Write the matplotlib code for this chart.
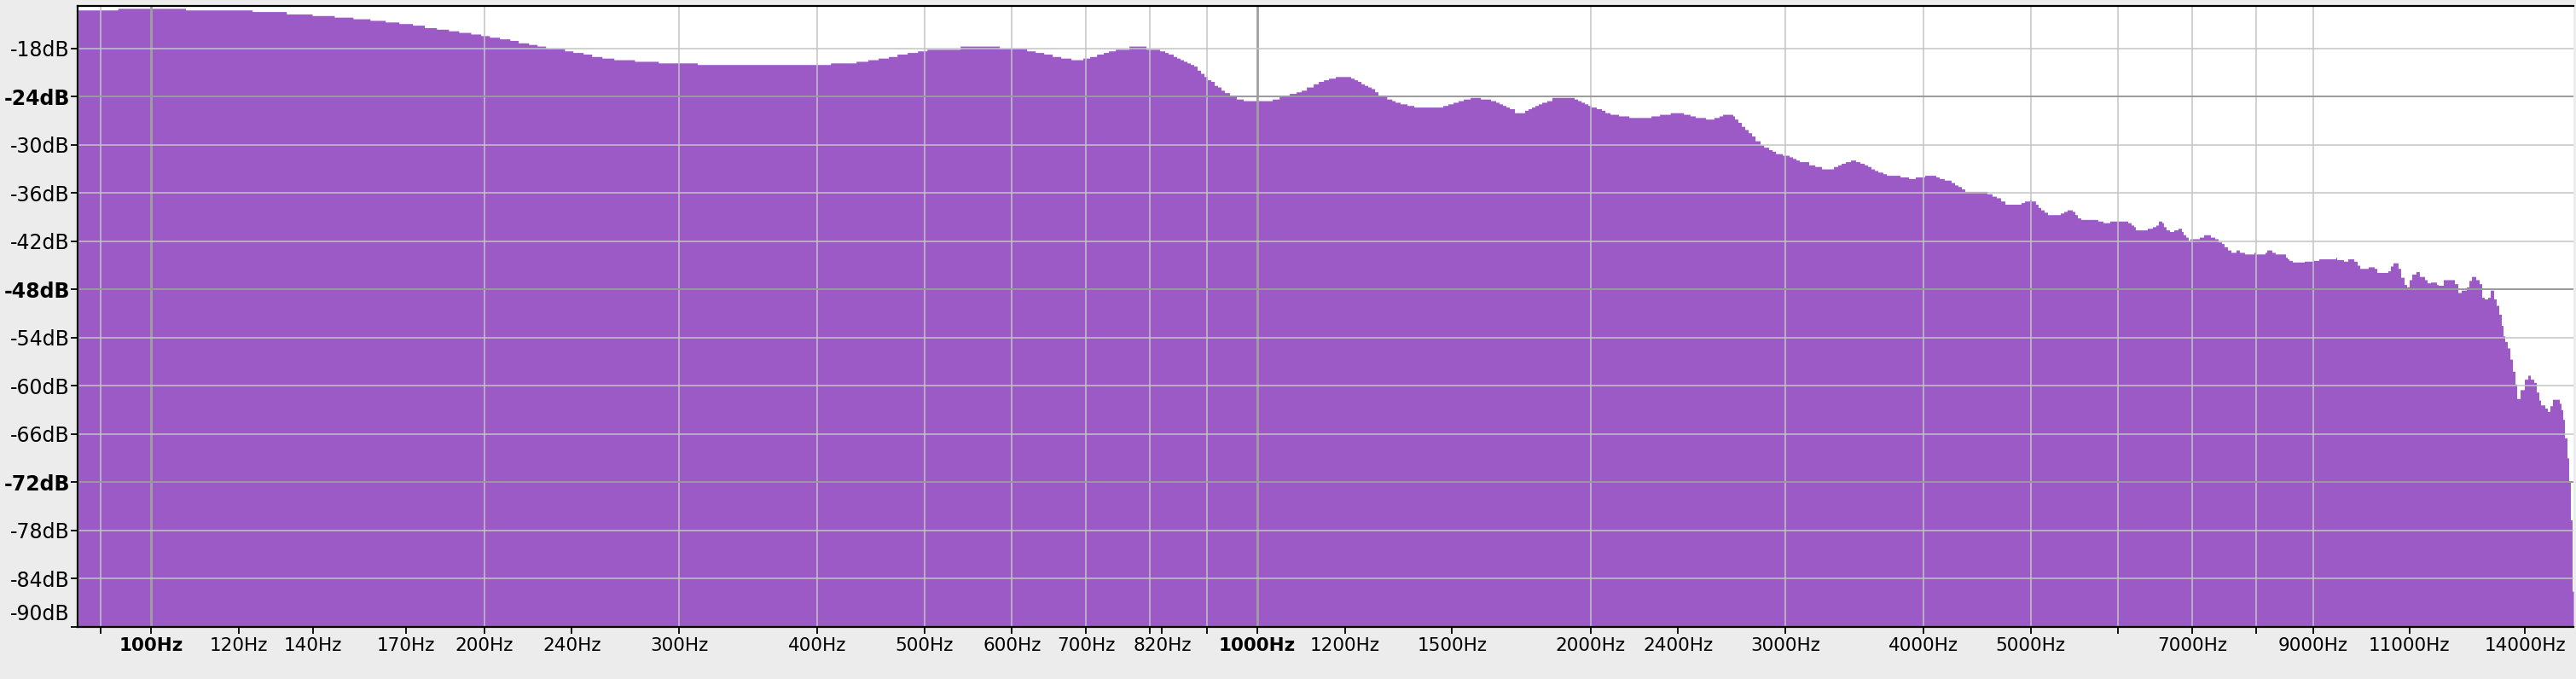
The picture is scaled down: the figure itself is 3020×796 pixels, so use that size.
import numpy as np
import matplotlib
matplotlib.use("Agg")
import matplotlib.pyplot as plt
from matplotlib.ticker import FixedLocator, NullLocator

# spectrum (segment start frequency in Hz, level in dB)
freq_hz = [
    85.9, 93.3, 107.4, 123.4, 132.5, 139.8, 146.4, 152.2, 157.7, 162.8,
    167.5, 172.3, 176.6, 181.1, 185.7, 189.7, 194.5, 198.6, 202.2, 206.5,
    211.0, 214.7, 219.4, 223.3, 227.3, 236.4, 240.6, 245.8, 250.2, 255.6,
    262.0, 273.5, 287.4, 311.7, 411.3, 433.8, 444.6, 454.2, 464.0, 472.4,
    482.5, 493.0, 502.7, 538.7, 584.5, 618.7, 629.8, 641.1, 652.5, 664.2,
    678.4, 695.5, 705.5, 715.7, 725.8, 733.7, 744.1, 765.6, 793.2, 816.0,
    824.7, 830.6, 839.5, 845.5, 851.5, 857.6, 863.8, 869.9, 876.0, 882.2,
    888.6, 894.9, 901.3, 907.8, 914.3, 920.6, 927.2, 933.8, 943.8, 957.3,
    971.1, 1031.6, 1046.4, 1068.8, 1084.2, 1095.8, 1107.5, 1123.4, 1135.4, 1147.6,
    1159.9, 1176.4, 1214.6, 1223.3, 1232.0, 1240.8, 1249.6, 1258.5, 1267.6, 1276.5,
    1285.6, 1309.1, 1323.1, 1332.1, 1346.3, 1365.6, 1385.2, 1471.4, 1487.1, 1503.0,
    1519.1, 1535.4, 1557.4, 1591.0, 1625.1, 1642.5, 1654.1, 1665.9, 1677.9, 1689.7,
    1707.8, 1744.6, 1757.0, 1769.5, 1782.1, 1794.8, 1807.6, 1826.9, 1846.4, 1933.8,
    1948, 1962, 1976, 1990, 2004, 2025, 2047, 2062, 2084, 2121,
    2167, 2269, 2310, 2362, 2428, 2461, 2488, 2542, 2587, 2615,
    2634, 2690, 2700, 2719, 2739, 2758, 2778, 2798, 2818, 2848,
    2869, 2899, 2920, 2941, 2983, 3025, 3047, 3068, 3090, 3151,
    3191, 3236, 3318, 3347, 3371, 3401, 3438, 3474, 3505, 3537,
    3562, 3587, 3613, 3639, 3677, 3704, 3810, 3879, 3934, 4011,
    4105, 4134, 4178, 4238, 4269, 4299, 4330, 4360, 4566, 4615,
    4656, 4698, 4740, 4902, 4937, 4990, 5008, 5052, 5079, 5107,
    5143, 5180, 5320, 5358, 5396, 5453, 5483, 5512, 5551, 5751,
    5813, 5896, 6121, 6164, 6197, 6219, 6376, 6444, 6490, 6524,
    6571, 6594, 6629, 6677, 6737, 6797, 6845, 6870, 6906, 6943,
    6968, 7105, 7168, 7271, 7336, 7388, 7441, 7480, 7534, 7588,
    7669, 7723, 7806, 7960, 7989, 8146, 8175, 8262, 8321, 8501,
    8531, 8562, 8623, 8840, 9000, 9111, 9440, 9457, 9592, 9678,
    9798, 9868, 9921, 10098, 10224, 10279, 10519, 10575, 10632, 10745,
    10803, 10880, 10938, 10996, 11055, 11154, 11233, 11354, 11414, 11496,
    11640, 11681, 11806, 12083, 12169, 12256, 12387, 12453, 12520, 12631,
    12721, 12789, 12857, 12949, 13018, 13111, 13181, 13251, 13322, 13369,
    13417, 13489, 13561, 13634, 13706, 13755, 13853, 13976, 14076, 14151,
    14252, 14328, 14404, 14456, 14584, 14662, 14740, 14819, 15031, 15084,
    15138, 15192, 15273, 15327, 15382, 15437, 15478,
]
level_db = [
    -13.2, -13.0, -13.2, -13.4, -13.7, -13.9, -14.1, -14.3, -14.5, -14.7,
    -14.9, -15.1, -15.4, -15.6, -15.8, -16.0, -16.2, -16.4, -16.6, -16.8,
    -17.0, -17.3, -17.5, -17.7, -18.0, -18.3, -18.5, -18.7, -19.0, -19.2,
    -19.4, -19.6, -19.8, -20.0, -19.8, -19.6, -19.4, -19.2, -19.0, -18.7,
    -18.5, -18.3, -18.1, -17.7, -18.0, -18.3, -18.5, -18.7, -19.0, -19.2,
    -19.4, -19.2, -19.0, -18.7, -18.5, -18.3, -18.1, -17.7, -18.1, -18.3,
    -18.5, -18.7, -19.0, -19.2, -19.4, -19.6, -19.8, -20.0, -20.2, -20.7,
    -21.1, -21.5, -21.9, -22.1, -22.6, -22.8, -23.2, -23.5, -23.9, -24.3,
    -24.5, -24.3, -23.9, -23.6, -23.4, -23.2, -22.8, -22.4, -22.1, -21.9,
    -21.7, -21.5, -21.7, -21.9, -22.1, -22.4, -22.6, -22.8, -23.0, -23.4,
    -23.8, -24.3, -24.5, -24.7, -24.9, -25.1, -25.3, -25.1, -24.9, -24.7,
    -24.5, -24.3, -24.1, -24.3, -24.5, -24.7, -24.9, -25.1, -25.3, -25.5,
    -26.0, -25.7, -25.5, -25.3, -25.1, -24.9, -24.7, -24.5, -24.1, -24.3,
    -24.5, -24.7, -24.9, -25.1, -25.3, -25.5, -25.7, -26.0, -26.2, -26.4,
    -26.6, -26.4, -26.2, -26.0, -26.2, -26.4, -26.6, -26.8, -26.6, -26.4,
    -26.2, -26.4, -26.8, -27.2, -27.7, -28.1, -28.5, -28.9, -29.5, -30.0,
    -30.3, -30.6, -30.8, -31.1, -31.3, -31.5, -31.7, -31.9, -32.1, -32.5,
    -32.7, -33.0, -32.7, -32.5, -32.3, -32.1, -31.9, -32.1, -32.3, -32.5,
    -32.7, -33.0, -33.2, -33.4, -33.6, -33.8, -34.0, -34.2, -34.0, -33.8,
    -34.0, -34.2, -34.4, -34.7, -35.0, -35.2, -35.5, -35.8, -36.1, -36.4,
    -36.6, -37.0, -37.4, -37.2, -37.0, -36.8, -37.0, -37.4, -37.8, -38.1,
    -38.4, -38.7, -38.5, -38.3, -38.1, -38.3, -38.7, -39.1, -39.3, -39.5,
    -39.7, -39.5, -39.7, -40.0, -40.2, -40.6, -40.4, -40.2, -40.0, -39.5,
    -39.7, -40.2, -40.6, -40.8, -40.6, -40.4, -40.8, -41.2, -41.5, -41.9,
    -41.7, -41.5, -41.2, -41.5, -41.7, -42.1, -42.3, -42.7, -43.1, -43.4,
    -43.1, -43.4, -43.6, -43.4, -43.6, -43.4, -43.1, -43.4, -43.6, -44.0,
    -44.2, -44.4, -44.6, -44.5, -44.4, -44.2, -44.0, -44.3, -44.5, -44.2,
    -44.5, -45.0, -45.4, -45.2, -45.4, -45.9, -45.7, -45.1, -44.7, -45.4,
    -46.5, -47.4, -47.7, -46.8, -46.1, -45.8, -46.4, -46.8, -47.2, -47.1,
    -47.4, -47.5, -46.8, -47.3, -48.4, -48.1, -47.7, -46.9, -46.4, -46.8,
    -47.3, -49.0, -49.2, -49.0, -48.1, -49.2, -50.0, -51.1, -52.5, -53.8,
    -54.5, -55.3, -56.7, -58.2, -59.8, -61.6, -60.5, -59.2, -58.7, -59.2,
    -59.6, -60.8, -61.8, -62.4, -62.8, -63.2, -62.5, -61.7, -62.2, -63.0,
    -64.2, -66.5, -69.0, -71.9, -76.7, -85.6, -85.6,
]

# axis ticks / grid
x_ticks = [90, 100, 120, 140, 170, 200, 240, 300, 400, 500, 600, 700, 800, 820,
           900, 1000, 1200, 1500, 2000, 2400, 3000, 4000, 5000, 6000, 7000,
           8000, 9000, 11000, 14000]
x_unlabeled = [90, 800, 900, 6000, 8000]
x_bold = [100, 1000]
x_grid = [90, 100, 200, 300, 400, 500, 600, 700, 800, 900,
          1000, 2000, 3000, 4000, 5000, 6000, 7000, 8000, 9000]
x_grid_major = [100, 1000]
y_ticks = [-18, -24, -30, -36, -42, -48, -54, -60, -66, -72, -78, -84, -90]
y_bold = [-24, -48, -72]

x_min, x_max = 85.8, 15478
y_min, y_max = -90, -12.7

fill_color = '#9c5ac6'
bg_color = '#ececec'

W, H = 3020, 796
fig = plt.figure(figsize=(W / 100, H / 100), dpi=100, facecolor=bg_color)
ax = fig.add_axes([91 / W, 1 - 734.5 / H, 2926 / W, 727.5 / H])
ax.set_facecolor('white')

ax.set_xscale('log')
ax.set_xlim(x_min, x_max)
ax.set_ylim(y_min, y_max)

ax.fill_between(freq_hz, level_db, y_min, step='post', color=fill_color,
                linewidth=0, zorder=1)

# grid drawn on top of the fill
for f in x_grid:
    major = f in x_grid_major
    ax.axvline(f, color='#a0a0a0' if major else '#c4c4c4',
               lw=2.0 if major else 1.1, zorder=2)
for d in y_ticks:
    major = d in y_bold
    ax.axhline(d, color='#9a9a9a' if major else '#c4c4c4',
               lw=1.4 if major else 1.1, zorder=2)

# x ticks
ax.xaxis.set_major_locator(FixedLocator(x_ticks))
ax.xaxis.set_minor_locator(NullLocator())
xlabels = ['' if f in x_unlabeled else f'{f}Hz' for f in x_ticks]
ax.set_xticklabels(xlabels, fontsize=15.5)
for f, lbl in zip(x_ticks, ax.get_xticklabels()):
    if f in x_bold:
        lbl.set_fontweight('bold')
ax.tick_params(axis='x', length=5.8, width=1.3, pad=3.5, colors='black')

# y ticks
ax.yaxis.set_major_locator(FixedLocator(y_ticks))
ax.yaxis.set_minor_locator(NullLocator())
ylabels = ['' if d == -90 else f'{d}dB' for d in y_ticks]
ax.set_yticklabels(ylabels, fontsize=17)
for d, lbl in zip(y_ticks, ax.get_yticklabels()):
    if d in y_bold:
        lbl.set_fontweight('bold')
ax.tick_params(axis='y', length=5.8, width=1.3, pad=0.8, colors='black')
# bottom label sits a little above its tick, as in the reference
ax.annotate('-90dB', xy=(0, -90), xycoords=('axes fraction', 'data'),
            xytext=(-6.6, 10.5), textcoords='offset points',
            ha='right', va='center', fontsize=17)

for side in ['left', 'bottom', 'top']:
    ax.spines[side].set_color('black')
    ax.spines[side].set_linewidth(1.6)
    ax.spines[side].set_zorder(3)
ax.spines['right'].set_visible(False)

fig.savefig('out.png', dpi=100, facecolor=bg_color)
